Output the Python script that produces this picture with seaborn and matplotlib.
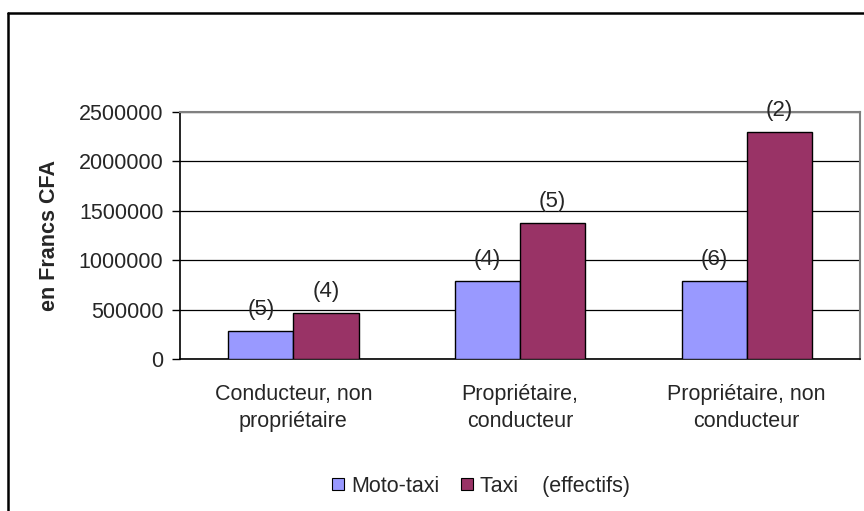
import pandas as pd
import matplotlib
matplotlib.use("Agg")
import matplotlib.pyplot as plt
import seaborn as sns
from matplotlib.lines import Line2D

categories = ["Conducteur, non\npropriétaire", "Propriétaire,\nconducteur", "Propriétaire, non\nconducteur"]
moto_taxi = [287000, 793000, 793000]
taxi = [466000, 1375000, 2300000]
moto_counts = ["(5)", "(4)", "(6)"]
taxi_counts = ["(4)", "(5)", "(2)"]
series = ["Moto-taxi", "Taxi    (effectifs)"]
yticks = [0, 500000, 1000000, 1500000, 2000000, 2500000]

df = pd.DataFrame({
    "cat": categories * 2,
    "val": moto_taxi + taxi,
    "serie": [series[0]] * 3 + [series[1]] * 3,
    "n": moto_counts + taxi_counts,
})

sns.set_style("white")
plt.rcParams["font.family"] = ["Liberation Sans", "DejaVu Sans"]
fs = 15.5

fig = plt.figure(figsize=(8.64, 5.11), dpi=100)
ax = fig.add_axes([180 / 864, 1 - 359 / 511, 680 / 864, 247 / 511])

sns.barplot(data=df, x="cat", y="val", hue="serie", order=categories,
            palette=["#9999FF", "#993366"], width=0.575, edgecolor="black",
            linewidth=1.0, saturation=1, ax=ax, legend=False, zorder=3)

# counts above bars
for cont, labels in zip(ax.containers, [moto_counts, taxi_counts]):
    ax.bar_label(cont, labels=labels, padding=8, fontsize=fs + 0.5, clip_on=False)

ax.set_ylim(0, 2500000)
ax.set_xlim(-0.5, 2.5)
ax.set_yticks(yticks)
ax.set_yticklabels([str(v) for v in yticks], fontsize=fs)
ax.yaxis.grid(True, color="black", linewidth=0.9, zorder=0)
ax.set_axisbelow(True)

ax.set_xticks(range(3))
ax.set_xticklabels(categories, fontsize=fs, linespacing=1.4)
ax.set_xticks([-0.5, 0.5, 1.5, 2.5], minor=True)
ax.tick_params(axis="x", which="major", length=0, pad=18)
ax.tick_params(axis="x", which="minor", length=6, width=1, color="black", direction="out")
ax.tick_params(axis="y", length=6, width=1, color="black", direction="out", pad=6, left=True)

for s in ["left", "bottom"]:
    ax.spines[s].set_color("black")
    ax.spines[s].set_linewidth(1.2)
for s in ["top", "right"]:
    ax.spines[s].set_color("#808080")
    ax.spines[s].set_linewidth(1.5)

ax.set_xlabel("")
ax.set_ylabel("en Francs CFA", fontsize=fs, fontweight="bold")
ax.yaxis.set_label_coords(-0.176, 0.5)

handles = [Line2D([], [], marker="s", linestyle="", markersize=9,
                  markerfacecolor=c, markeredgecolor="black", markeredgewidth=0.8)
           for c in ["#9999FF", "#993366"]]
fig.legend(handles, series, loc="center", bbox_to_anchor=(481 / 864, 1 - 486 / 511),
           ncol=2, frameon=False, fontsize=fs, handlelength=0.6, handletextpad=0.3,
           columnspacing=1.0)

# outer chart frame
fig.add_artist(Line2D([8 / 864, 8 / 864], [0, 1 - 13 / 511], transform=fig.transFigure,
                      color="black", linewidth=1.8))
fig.add_artist(Line2D([8 / 864, 1], [1 - 13 / 511, 1 - 13 / 511], transform=fig.transFigure,
                      color="black", linewidth=1.8))

fig.savefig("out.png", dpi=100)
